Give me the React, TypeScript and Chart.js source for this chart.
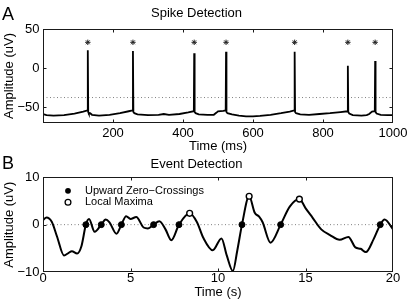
import React, { useEffect, useRef } from 'react';
import { Chart, registerables } from 'chart.js';

Chart.register(...registerables);

const FONT = '"Liberation Sans", Arial, Helvetica, sans-serif';

// ---------- Panel A: Spike Detection ----------
const traceTimeMs = [
  0, 10, 30, 60, 90, 115, 127, 128, 129.2, 131, 135, 140, 160, 190, 220, 245, 256,
  257, 258.2, 261, 270, 300, 330, 345, 360, 390, 415, 431, 432, 433.2, 436, 445, 470,
  488, 495, 500, 515, 522, 523, 524.2, 527, 540, 560, 580, 600, 620, 650, 680, 705,
  718, 719, 720.2, 723, 735, 760, 790, 820, 850, 870, 871, 872.2, 875, 885, 910, 925,
  932, 940, 948, 949, 950.2, 953, 965, 985, 1000,
];
const traceAmpUV = [
  -58.5, -60, -60.5, -60, -58, -55.5, -54, 23, -56, -58, -57.5, -59.5, -60.5, -59.5, -57.5, -55, -54,
  22, -56, -57.5, -59, -60, -59.5, -58.5, -59.5, -58.5, -56.5, -55, 19, -56, -57.5, -59, -59.5,
  -59.5, -57, -55, -54.5, -54, 21, -56, -57.5, -59, -60.5, -61.5, -61.5, -61, -59.5, -57.5, -55.5,
  -54, 21, -56, -57.5, -59, -59.5, -58.5, -57.5, -56, -55, 3, -56, -58, -60, -60.5, -60,
  -58.5, -55.5, -55, 9, -56, -58, -59.5, -60, -60,
];
const spikeTimeMs = [128, 257, 432, 523, 719, 871, 949];
const asteriskLevelUV = 33;
const thresholdUV = -37.5;
const xTicksA = [200, 400, 600, 800, 1000];
const yTicksA = [-50, 0, 50];

// ---------- Panel B: Event Detection ----------
const eventTimeS = [
  0, 0.2, 0.5, 0.8, 1.2, 1.45, 1.65, 1.95, 2.2, 2.45, 2.63, 2.95, 3.33, 3.58, 3.8, 4.2,
  4.48, 4.75, 5.0, 5.33, 5.75, 6.0, 6.32, 6.65, 7.0, 7.33, 7.77, 8.38, 8.8, 9.15, 9.7,
  10.2, 10.5, 10.85, 11.1, 11.37, 11.78, 12.1, 12.35, 12.55, 13.0, 13.58, 14.1, 14.65,
  15.0, 15.4, 15.9, 16.4, 16.95, 17.45, 17.85, 18.15, 18.45, 18.9, 19.27, 19.52, 20,
];
const eventAmpUV = [
  1.0, 1.5, 0.6, -2.5, -6.5, -6.0, -5.6, -6.1, -4.5, 0, 1.2, -1.5, 0, 1.1, 0.5, -1.9,
  0, 1.8, 1.2, 1.6, -0.6, -0.8, 0, 0.7, -1.0, -3.3, 0, 2.4, 0.5, -2.7, -5.4,
  -2.9, -6.5, -9.8, -5.5, 0, 6.0, 2.5, 1.7, 0.5, -3.8, 0, 3.8, 5.4,
  3.5, 1.5, -1.0, -2.2, -3.2, -2.6, -4.8, -5.1, -5.8, -3.0, 0, 1.1, -1.0,
];
const zeroCrossTimeS = [2.45, 3.33, 4.48, 6.32, 7.77, 11.37, 13.58, 19.27];
const maxTimeS = [8.38, 11.78, 14.65];
const maxAmpUV = [2.4, 6.0, 5.4];
const xTicksB = [0, 5, 10, 15, 20];
const yTicksB = [-10, 0, 10];
const legendLabels = ['Upward Zero\u2212Crossings', 'Local Maxima'];

const fmt = (v: number) => (v < 0 ? '\u2212' + Math.abs(v) : String(v));

const framePlugin = {
  id: 'frameTicks',
  afterDatasetsDraw(chart: any) {
    const { ctx, chartArea } = chart;
    const l = Math.round(chartArea.left) + 0.5;
    const r = Math.round(chartArea.right) - 0.5;
    const t = Math.round(chartArea.top) + 0.5;
    const b = Math.round(chartArea.bottom) - 0.5;
    ctx.save();
    ctx.strokeStyle = '#1a1a1a';
    ctx.lineWidth = 1;
    ctx.strokeRect(l, t, r - l, b - t);
    const tl = 3;
    const xs = chart.scales.x;
    const ys = chart.scales.y;
    ctx.beginPath();
    xs.ticks.forEach((tk: any) => {
      const p = Math.round(xs.getPixelForValue(tk.value)) + 0.5;
      if (p <= l + 1 || p >= r - 1) return;
      ctx.moveTo(p, b); ctx.lineTo(p, b - tl);
      ctx.moveTo(p, t); ctx.lineTo(p, t + tl);
    });
    ys.ticks.forEach((tk: any) => {
      const p = Math.round(ys.getPixelForValue(tk.value)) + 0.5;
      if (p <= t + 1 || p >= b - 1) return;
      ctx.moveTo(l, p); ctx.lineTo(l + tl, p);
      ctx.moveTo(r, p); ctx.lineTo(r - tl, p);
    });
    ctx.stroke();
    ctx.restore();
  },
};

const legendPlugin = {
  id: 'innerLegend',
  afterDraw(chart: any) {
    const { ctx, chartArea } = chart;
    const mx = chartArea.left + 25;
    const tx = chartArea.left + 42;
    const ys = [chartArea.top + 13.5, chartArea.top + 25];
    ctx.save();
    ctx.font = `11px ${FONT}`;
    ctx.textBaseline = 'middle';
    ctx.textAlign = 'left';
    ctx.fillStyle = '#000';
    legendLabels.forEach((lab, i) => {
      ctx.beginPath();
      ctx.arc(mx, ys[i], 2.9, 0, Math.PI * 2);
      if (i === 0) {
        ctx.fillStyle = '#000';
        ctx.fill();
      } else {
        ctx.fillStyle = '#fff';
        ctx.fill();
        ctx.lineWidth = 1.3;
        ctx.strokeStyle = '#000';
        ctx.stroke();
      }
      ctx.fillStyle = '#000';
      ctx.fillText(lab, tx, ys[i]);
    });
    ctx.restore();
  },
};

function makeOptions(cfg: {
  title: string; tTop: number; tBottom: number;
  xMin: number; xMax: number; xTicks: number[]; xTitle: string; xPad: number; xTitlePad: number; xHeight: number;
  yMin: number; yMax: number; yTicks: number[];
}): any {
  const font13 = { family: FONT, size: 13, weight: 'normal' as const, lineHeight: 1.2 };
  return {
    responsive: false,
    animation: false,
    events: [],
    layout: { padding: { left: 0, right: 14, top: 0, bottom: 0 } },
    plugins: {
      legend: { display: false },
      tooltip: { enabled: false },
      title: {
        display: true, text: cfg.title, color: '#000', font: font13,
        padding: { top: cfg.tTop, bottom: cfg.tBottom },
      },
    },
    scales: {
      x: {
        type: 'linear', min: cfg.xMin, max: cfg.xMax,
        grid: { display: false, drawTicks: false },
        border: { display: false },
        ticks: {
          color: '#000', font: { family: FONT, size: 13, lineHeight: 1 }, padding: cfg.xPad,
          maxRotation: 0, autoSkip: false, callback: (v: any) => fmt(Number(v)),
        },
        title: {
          display: true, text: cfg.xTitle, color: '#000', font: font13,
          padding: { top: 0, bottom: cfg.xTitlePad },
        },
        afterBuildTicks: (s: any) => { s.ticks = cfg.xTicks.map((v) => ({ value: v })); },
        afterFit: (s: any) => { s.height = cfg.xHeight; s.paddingLeft = 0; s.paddingRight = 0; },
      },
      y: {
        type: 'linear', min: cfg.yMin, max: cfg.yMax,
        grid: { display: false, drawTicks: false },
        border: { display: false },
        ticks: {
          color: '#000', font: { family: FONT, size: 13, lineHeight: 1 }, padding: 3.5,
          autoSkip: false, callback: (v: any) => fmt(Number(v)),
        },
        title: {
          display: true, text: 'Amplitude (uV)', color: '#000', font: font13,
          padding: { top: 2, bottom: 0 },
        },
        afterBuildTicks: (s: any) => { s.ticks = cfg.yTicks.map((v) => ({ value: v })); },
        afterFit: (s: any) => { s.width = 43; s.paddingTop = 0; s.paddingBottom = 0; },
      },
    },
  };
}

export default function App() {
  const refA = useRef<HTMLCanvasElement>(null);
  const refB = useRef<HTMLCanvasElement>(null);

  useEffect(() => {
    const chartA = new Chart(refA.current as HTMLCanvasElement, {
      type: 'line',
      data: {
        datasets: [
          {
            data: spikeTimeMs.map((t) => ({ x: t, y: asteriskLevelUV })),
            showLine: false, pointStyle: 'star', pointRadius: 2.7,
            borderColor: '#222', backgroundColor: '#222', pointBorderWidth: 1, order: 0,
          },
          {
            data: traceTimeMs.map((t, i) => ({ x: t, y: traceAmpUV[i] })),
            borderColor: '#000', borderWidth: 1.8, pointRadius: 0, tension: 0, order: 1,
          },
          {
            data: [{ x: 0, y: thresholdUV }, { x: 1000, y: thresholdUV }],
            borderColor: '#808080', borderWidth: 1, borderDash: [1, 2.5], pointRadius: 0, order: 2,
          },
        ],
      },
      options: makeOptions({
        title: 'Spike Detection', tTop: 6, tBottom: 7.4,
        xMin: 0, xMax: 1000, xTicks: xTicksA, xTitle: 'Time (ms)', xPad: 4, xTitlePad: 6, xHeight: 37,
        yMin: -70, yMax: 50, yTicks: yTicksA,
      }),
      plugins: [framePlugin],
    });

    const chartB = new Chart(refB.current as HTMLCanvasElement, {
      type: 'line',
      data: {
        datasets: [
          {
            data: zeroCrossTimeS.map((t) => ({ x: t, y: 0 })),
            showLine: false, pointStyle: 'circle', pointRadius: 3,
            borderColor: '#000', backgroundColor: '#000', pointBorderWidth: 1, order: 0,
          },
          {
            data: maxTimeS.map((t, i) => ({ x: t, y: maxAmpUV[i] })),
            showLine: false, pointStyle: 'circle', pointRadius: 2.9,
            borderColor: '#000', backgroundColor: '#fff', pointBorderWidth: 1.4, order: 0,
          },
          {
            data: eventTimeS.map((t, i) => ({ x: t, y: eventAmpUV[i] })),
            borderColor: '#000', borderWidth: 2, pointRadius: 0,
            cubicInterpolationMode: 'monotone', order: 1,
          },
          {
            data: [{ x: 0, y: 0 }, { x: 20, y: 0 }],
            borderColor: '#808080', borderWidth: 1, borderDash: [1, 2.5], pointRadius: 0, order: 2,
          },
        ],
      },
      options: makeOptions({
        title: 'Event Detection', tTop: 6.4, tBottom: 5.3,
        xMin: 0, xMax: 20, xTicks: xTicksB, xTitle: 'Time (s)', xPad: 0, xTitlePad: 3.7, xHeight: 32,
        yMin: -10, yMax: 10, yTicks: yTicksB,
      }),
      plugins: [framePlugin, legendPlugin],
    });

    return () => {
      chartA.destroy();
      chartB.destroy();
    };
  }, []);

  const letter: React.CSSProperties = {
    position: 'absolute', left: 2, fontFamily: FONT, fontSize: 18, lineHeight: '18px', color: '#000',
  };

  return (
    <div style={{ position: 'fixed', left: 0, top: 0, width: 407, height: 304, background: '#fff' }}>
      <canvas ref={refA} width={407} height={160} style={{ position: 'absolute', left: 0, top: 0 }} />
      <canvas ref={refB} width={407} height={154} style={{ position: 'absolute', left: 0, top: 150 }} />
      <div style={{ ...letter, top: 4.5 }}>A</div>
      <div style={{ ...letter, top: 154 }}>B</div>
    </div>
  );
}
